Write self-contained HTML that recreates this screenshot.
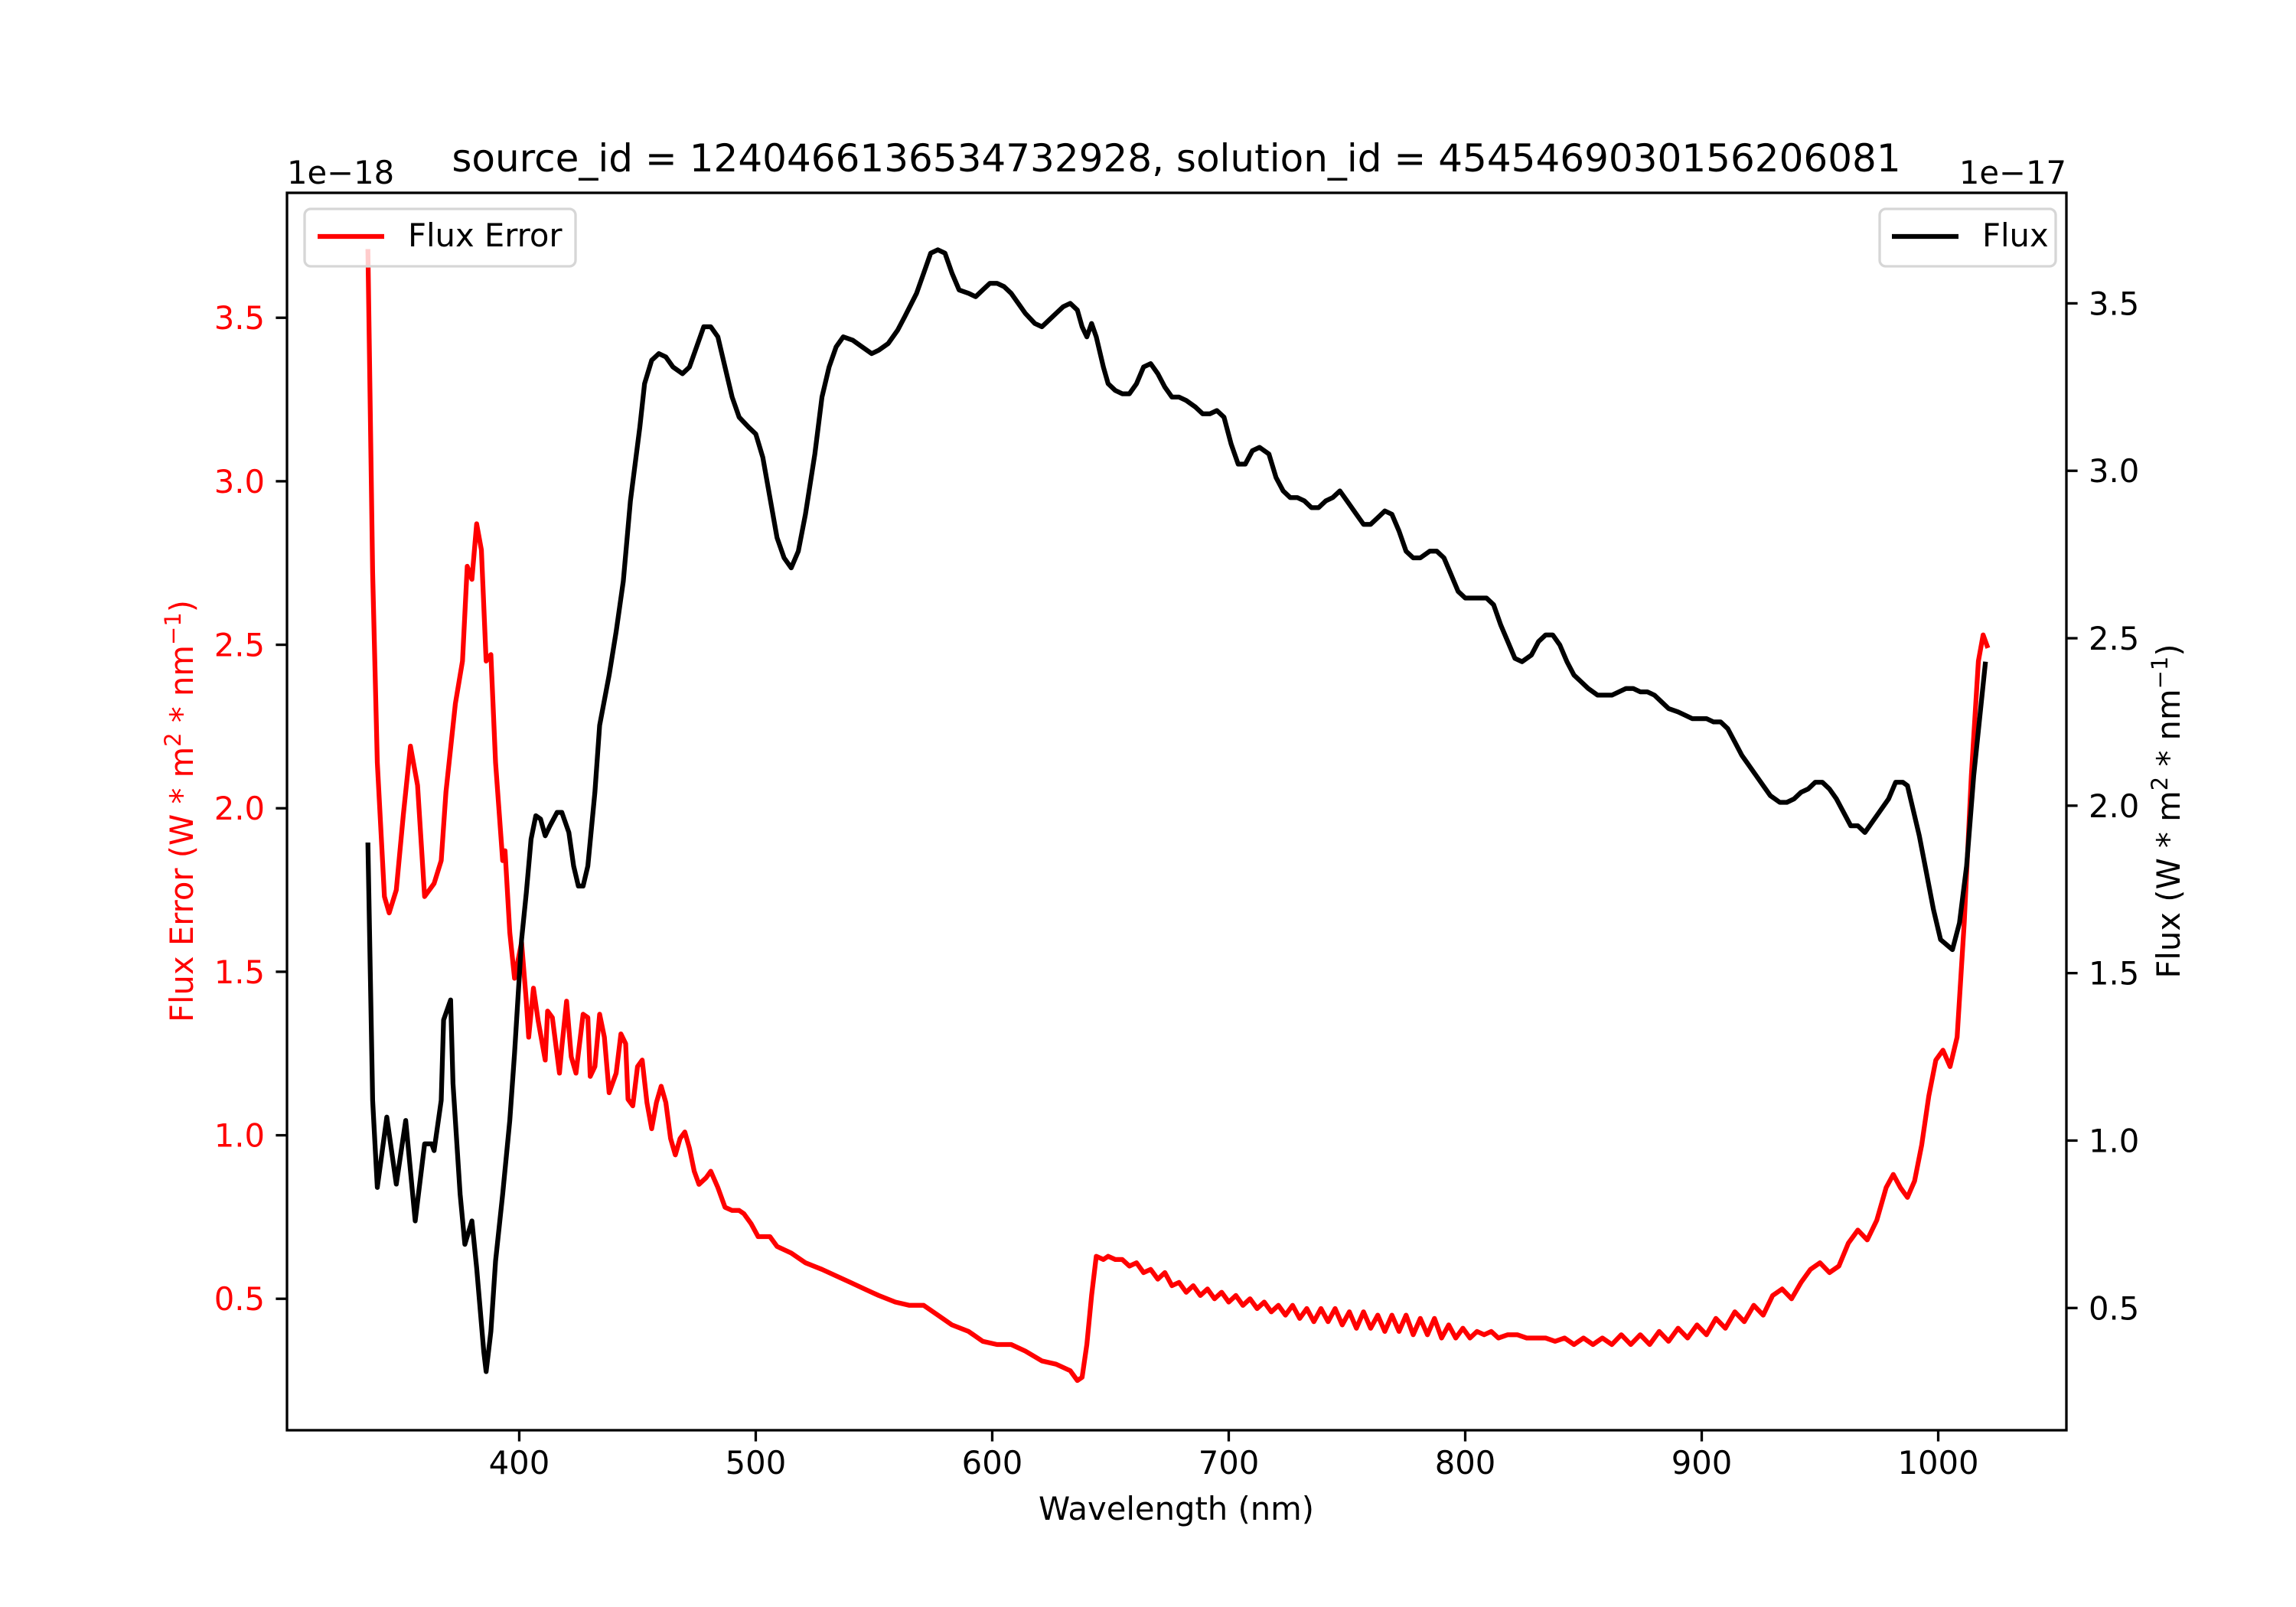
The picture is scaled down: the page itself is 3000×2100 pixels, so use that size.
<!DOCTYPE html>
<html><head><meta charset="utf-8"><style>
html,body{margin:0;padding:0;background:#fff;}
svg{display:block;font-family:"DejaVu Sans","Liberation Sans",sans-serif;}
</style></head><body>
<svg id="chart" width="3000" height="2100" viewBox="0 0 3000 2100" xmlns="http://www.w3.org/2000/svg">
<rect width="3000" height="2100" fill="#fff"/>
<g id="marks"></g>
<g id="axes"></g>
<text x="1537" y="224" font-size="50" text-anchor="middle">source_id = 1240466136534732928, solution_id = 4545469030156206081</text>
<text x="375" y="240" font-size="41.7">1e−18</text>
<text x="2700" y="240" font-size="41.7" text-anchor="end">1e−17</text>
<text x="1537" y="1986" font-size="41.7" text-anchor="middle">Wavelength (nm)</text>
<text transform="translate(252,1060) rotate(-90)" font-size="41.7" fill="#ff0000" text-anchor="middle">Flux Error (W * m<tspan font-size="29" dy="-16">2</tspan><tspan dy="16"> * nm</tspan><tspan font-size="29" dy="-16">−1</tspan><tspan dy="16">)</tspan></text>
<text transform="translate(2848,1060) rotate(-90)" font-size="41.7" fill="#000" text-anchor="middle">Flux (W * m<tspan font-size="29" dy="-16">2</tspan><tspan dy="16"> * nm</tspan><tspan font-size="29" dy="-16">−1</tspan><tspan dy="16">)</tspan></text>
<g>
<rect x="398" y="273" width="354" height="75" rx="8" fill="#fff" fill-opacity="0.8" stroke="#d6d6d6" stroke-width="3.3"/>
<line x1="415" y1="309" x2="502" y2="309" stroke="#ff0000" stroke-width="6.25"/>
<text x="533" y="322" font-size="41.7">Flux Error</text>
</g>
<g>
<rect x="2456" y="273" width="230" height="75" rx="8" fill="#fff" fill-opacity="0.8" stroke="#d6d6d6" stroke-width="3.3"/>
<line x1="2472" y1="309" x2="2559" y2="309" stroke="#000" stroke-width="6.25"/>
<text x="2590" y="322" font-size="41.7">Flux</text>
</g>
</svg>
<script>
const xTicks=[400,500,600,700,800,900,1000];
const errTicks=[0.5,1.0,1.5,2.0,2.5,3.0,3.5];
const fluxTicks=[0.5,1.0,1.5,2.0,2.5,3.0,3.5];
const fluxWl=[336,338,340,344,348,352,356,360,363,364,367,368,371,372,375,377,380,382,385,386,388,390,393,396,398,401,403,405,407,409,411,413,416,418,421,423,425,427,429,432,434,438,441,444,447,451,453,456,459,462,465,469,472,475,478,481,484,487,490,493,497,500,503,506,509,512,515,518,521,525,528,531,534,537,541,545,549,552,556,560,563,568,571,574,577,580,583,586,590,593,596,599,602,605,608,611,614,618,621,624,627,630,633,636,638,640,642,644,647,649,652,655,658,661,664,667,670,673,676,679,682,686,689,692,695,698,701,704,707,710,713,717,720,723,726,729,732,735,738,741,744,747,750,754,757,760,763,766,769,772,775,778,781,785,788,791,794,797,800,803,806,809,812,815,818,821,824,828,831,834,837,840,843,846,849,852,856,859,862,865,868,871,874,877,880,883,886,890,893,896,899,902,905,908,911,914,917,920,923,926,929,933,936,939,942,945,948,951,954,957,960,963,966,969,972,975,979,982,985,987,989,992,995,998,1001,1006,1009,1012,1015,1020];
const fluxVal=[1.89,1.12,0.86,1.07,0.87,1.06,0.76,0.99,0.99,0.97,1.12,1.36,1.42,1.17,0.84,0.69,0.76,0.62,0.37,0.31,0.43,0.64,0.84,1.06,1.26,1.60,1.74,1.90,1.97,1.96,1.91,1.94,1.98,1.98,1.92,1.82,1.76,1.76,1.82,2.04,2.24,2.39,2.52,2.67,2.91,3.13,3.26,3.33,3.35,3.34,3.31,3.29,3.31,3.37,3.43,3.43,3.40,3.31,3.22,3.16,3.13,3.11,3.04,2.92,2.80,2.74,2.71,2.76,2.87,3.05,3.22,3.31,3.37,3.40,3.39,3.37,3.35,3.36,3.38,3.42,3.46,3.53,3.59,3.65,3.66,3.65,3.59,3.54,3.53,3.52,3.54,3.56,3.56,3.55,3.53,3.50,3.47,3.44,3.43,3.45,3.47,3.49,3.50,3.48,3.43,3.40,3.44,3.40,3.31,3.26,3.24,3.23,3.23,3.26,3.31,3.32,3.29,3.25,3.22,3.22,3.21,3.19,3.17,3.17,3.18,3.16,3.08,3.02,3.02,3.06,3.07,3.05,2.98,2.94,2.92,2.92,2.91,2.89,2.89,2.91,2.92,2.94,2.91,2.87,2.84,2.84,2.86,2.88,2.87,2.82,2.76,2.74,2.74,2.76,2.76,2.74,2.69,2.64,2.62,2.62,2.62,2.62,2.60,2.54,2.49,2.44,2.43,2.45,2.49,2.51,2.51,2.48,2.43,2.39,2.37,2.35,2.33,2.33,2.33,2.34,2.35,2.35,2.34,2.34,2.33,2.31,2.29,2.28,2.27,2.26,2.26,2.26,2.25,2.25,2.23,2.19,2.15,2.12,2.09,2.06,2.03,2.01,2.01,2.02,2.04,2.05,2.07,2.07,2.05,2.02,1.98,1.94,1.94,1.92,1.95,1.98,2.02,2.07,2.07,2.06,2.00,1.91,1.80,1.69,1.60,1.57,1.65,1.82,2.09,2.43];
const errWl=[336,338,340,343,345,348,351,354,357,360,364,367,369,373,376,378,380,382,384,386,388,390,393,394,396,398,401,403,404,406,408,411,412,414,417,418,420,422,424,427,429,430,432,434,436,438,441,443,445,446,448,450,452,454,456,458,460,462,464,466,468,470,472,474,476,479,481,484,487,490,493,495,498,501,506,509,515,521,528,534,540,546,552,559,565,571,577,583,590,596,602,608,614,621,627,633,636,638,640,642,644,647,649,652,655,658,661,664,667,670,673,676,679,682,685,688,691,694,697,700,703,706,709,712,715,718,721,724,727,730,733,736,739,742,745,748,751,754,757,760,763,766,769,772,775,778,781,784,787,790,793,796,799,802,805,808,811,814,818,822,826,830,834,838,842,846,850,854,858,862,866,870,874,878,882,886,890,894,898,902,906,910,914,918,922,926,930,934,938,942,946,950,954,958,962,966,970,974,978,981,984,987,990,993,996,999,1002,1005,1008,1011,1014,1017,1019,1021];
const errVal=[3.71,2.72,2.14,1.73,1.68,1.75,1.98,2.19,2.07,1.73,1.77,1.84,2.05,2.32,2.45,2.74,2.70,2.87,2.79,2.45,2.47,2.14,1.84,1.87,1.62,1.48,1.59,1.41,1.30,1.45,1.35,1.23,1.38,1.36,1.19,1.27,1.41,1.24,1.19,1.37,1.36,1.18,1.21,1.37,1.30,1.13,1.19,1.31,1.28,1.11,1.09,1.21,1.23,1.10,1.02,1.10,1.15,1.10,0.99,0.94,0.99,1.01,0.96,0.89,0.85,0.87,0.89,0.84,0.78,0.77,0.77,0.76,0.73,0.69,0.69,0.66,0.64,0.61,0.59,0.57,0.55,0.53,0.51,0.49,0.48,0.48,0.45,0.42,0.40,0.37,0.36,0.36,0.34,0.31,0.30,0.28,0.25,0.26,0.36,0.51,0.63,0.62,0.63,0.62,0.62,0.60,0.61,0.58,0.59,0.56,0.58,0.54,0.55,0.52,0.54,0.51,0.53,0.50,0.52,0.49,0.51,0.48,0.50,0.47,0.49,0.46,0.48,0.45,0.48,0.44,0.47,0.43,0.47,0.43,0.47,0.42,0.46,0.41,0.46,0.41,0.45,0.40,0.45,0.40,0.45,0.39,0.44,0.39,0.44,0.38,0.42,0.38,0.41,0.38,0.40,0.39,0.40,0.38,0.39,0.39,0.38,0.38,0.38,0.37,0.38,0.36,0.38,0.36,0.38,0.36,0.39,0.36,0.39,0.36,0.40,0.37,0.41,0.38,0.42,0.39,0.44,0.41,0.46,0.43,0.48,0.45,0.51,0.53,0.50,0.55,0.59,0.61,0.58,0.60,0.67,0.71,0.68,0.74,0.84,0.88,0.84,0.81,0.86,0.97,1.12,1.23,1.26,1.21,1.30,1.65,2.10,2.45,2.53,2.49];

const L=375,R=2700,T=252,B=1869;
const XMIN=301.8,XMAX=1054.2,EMIN=0.098,EMAX=3.882,FMIN=0.135,FMAX=3.83;
const NS='http://www.w3.org/2000/svg';
function xs(v){return L+(v-XMIN)/(XMAX-XMIN)*(R-L);}
function ye(v){return B-(v-EMIN)/(EMAX-EMIN)*(B-T);}
function yf(v){return B-(v-FMIN)/(FMAX-FMIN)*(B-T);}
function mk(tag,attrs,parent){const e=document.createElementNS(NS,tag);for(const k in attrs)e.setAttribute(k,attrs[k]);parent.appendChild(e);return e;}
const marks=document.getElementById('marks');
const axes=document.getElementById('axes');
let dErr=errWl.map((w,i)=>(i?'L':'M')+xs(w).toFixed(1)+','+ye(errVal[i]).toFixed(1)).join('');
const pe=mk('path',{d:dErr,fill:'none',stroke:'#ff0000','stroke-width':6.25,'stroke-linejoin':'round'},marks);


let dFlux=fluxWl.map((w,i)=>(i?'L':'M')+xs(w).toFixed(1)+','+yf(fluxVal[i]).toFixed(1)).join('');
const pf=mk('path',{d:dFlux,fill:'none',stroke:'#000','stroke-width':6.25,'stroke-linejoin':'round'},marks);


const frame=mk('rect',{x:L,y:T,width:R-L,height:B-T,fill:'none',stroke:'#000','stroke-width':3.3},axes);


xTicks.forEach(t=>{const x=xs(t);
 const ln=mk('line',{x1:x,y1:B,x2:x,y2:B+14.6,stroke:'#000','stroke-width':3.3},axes);
 
 
 const tx=mk('text',{x:x,y:B+57,'font-size':41.7,'text-anchor':'middle'},axes);tx.textContent=t;
 
 
});
errTicks.forEach(t=>{const y=ye(t);
 const ln=mk('line',{x1:L-14.6,y1:y,x2:L,y2:y,stroke:'#000','stroke-width':3.3},axes);
 
 
 const tx=mk('text',{x:L-29,y:y+15,'font-size':41.7,'text-anchor':'end',fill:'#ff0000'},axes);tx.textContent=t.toFixed(1);
 
 
});
fluxTicks.forEach(t=>{const y=yf(t);
 const ln=mk('line',{x1:R,y1:y,x2:R+14.6,y2:y,stroke:'#000','stroke-width':3.3},axes);
 
 
 const tx=mk('text',{x:R+29,y:y+15,'font-size':41.7,'text-anchor':'start'},axes);tx.textContent=t.toFixed(1);
 
 
});
</script>
</body></html>
